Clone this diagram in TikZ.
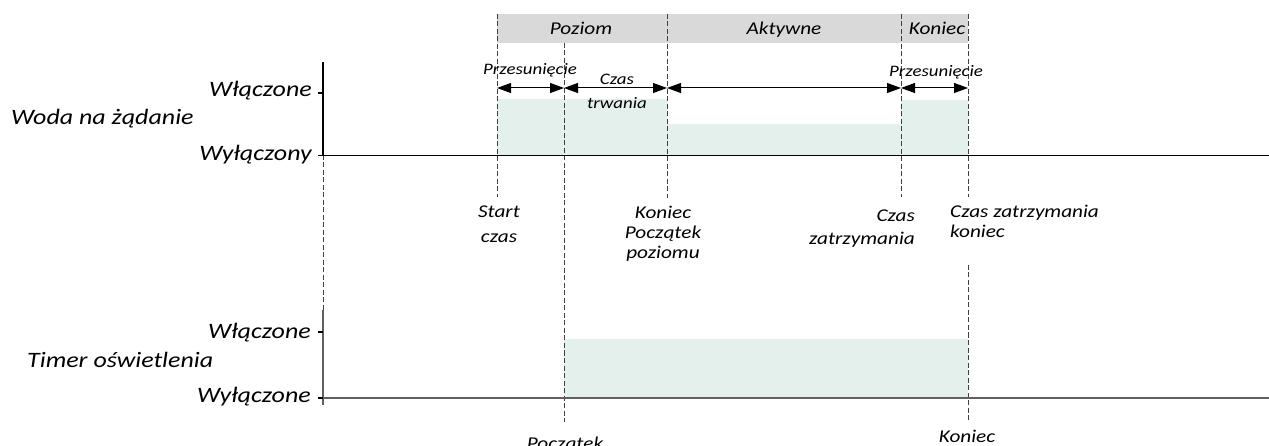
\documentclass[tikz,border=0pt]{standalone}
\usepackage{fontspec}
\newfontfamily\lab{Carlito}[FakeStretch=1.18]
\usetikzlibrary{arrows.meta}
\definecolor{fillgreen}{HTML}{E4F0EC}
\definecolor{hdrgray}{HTML}{D9D9D9}
\definecolor{dashgray}{HTML}{404040}
\definecolor{axisgray}{HTML}{606060}
\begin{document}
\begin{tikzpicture}[x=1pt,y=-1pt,
  txt/.style={inner sep=0pt, font=\lab\itshape\fontsize{18}{20}\selectfont},
  big/.style={inner sep=0pt, font=\lab\itshape\fontsize{22}{24}\selectfont},
  small/.style={inner sep=0pt, font=\lab\itshape\fontsize{16}{24}\selectfont},
  guide/.style={dashgray, line width=0.9pt, dash pattern=on 5pt off 2.5pt},
  axis/.style={black, line width=1.2pt},
  baxis/.style={axisgray, line width=1.5pt},
  dimarrow/.style={{Triangle[length=14pt,width=10pt]}-{Triangle[length=14pt,width=10pt]}, line width=1pt},
  level/.style={fill=fillgreen, draw=none},
]
\useasboundingbox (0,0) rectangle (1269,446);
% header band
\fill[hdrgray] (497,14) rectangle (968,43);
% signal levels
\fill[level] (497,99) rectangle (667,155.5);
\fill[level] (667,124) rectangle (901,155.5);
\fill[level] (901,100) rectangle (968,155.5);
\fill[level] (564,339) rectangle (968,398);
% time coordinates
\coordinate (tS) at (497,88);
\coordinate (tO) at (564,88);
\coordinate (tL) at (667,88);
\coordinate (tH) at (901,88);
\coordinate (tE) at (968,88);
% guides
\draw[guide] (497,14) -- (497,197);
\draw[guide] (564,43) -- (564,422);
\draw[guide] (667,14) -- (667,198);
\draw[guide] (901,14) -- (901,197);
\draw[guide] (968,14) -- (968,197);
\draw[guide] (968,265) -- (968,422);
\draw[guide] (323,155) -- (323,310);
% top axis
\draw[axis] (323,62) -- (323,155.5) -- (1269,155.5);
\draw[axis] (318,93) -- (323,93);
\draw[axis] (318,155.5) -- (323,155.5);
% bottom axis
\draw[baxis] (323,310) -- (323,405);
\draw[baxis] (323,398) -- (1269,398);
\draw[axis] (318,332) -- (323,332);
\draw[axis] (318,398) -- (323,398);
% dimension arrows
\draw[dimarrow] (tS) -- (tO);
\draw[dimarrow] (tO) -- (tL);
\draw[dimarrow] (tL) -- (tH);
\draw[dimarrow] (tH) -- (tE);
% header texts
\node[txt,anchor=base] (hP) at (581,35) {Poziom};
\node[txt,anchor=base] (hA) at (784,35) {Aktywne};
\node[txt,anchor=base] (hK) at (937,35) {Koniec};
% arrow labels
\node[small,anchor=base] (o1) at (530,75) {Przesunięcie};
\node[small,anchor=base] (o2) at (936,77) {Przesunięcie};
\node[small,align=center] (d1) at (617,91) {Czas\\trwania};
% signal labels
\node[big,anchor=base west] (w) at (11,125) {Woda na żądanie};
\node[big,anchor=base east] (won) at (312,97) {Włączone};
\node[big,anchor=base east] (woff) at (312,161) {Wyłączony};
\node[big,anchor=base west] (t) at (27,367) {Timer oświetlenia};
\node[big,anchor=base east] (ton) at (311,338) {Włączone};
\node[big,anchor=base east] (toff) at (311,402) {Wyłączone};
% event labels
\node[txt,align=center,anchor=north,font=\lab\itshape\fontsize{18}{25}\selectfont] (e1) at (499,206) {Start\\czas};
\node[txt,align=center,anchor=north] (e2) at (663,206) {Koniec\\Początek\\poziomu};
\node[txt,align=right,anchor=north east,font=\lab\itshape\fontsize{18}{23}\selectfont] (e3) at (915,210) {Czas\\zatrzymania};
\node[txt,align=left,anchor=north west] (e4) at (950,205) {Czas zatrzymania\\koniec};
\node[txt,anchor=base] (b1) at (565,449) {Początek};
\node[txt,anchor=base] (b2) at (967,442) {Koniec};
\end{tikzpicture}
\end{document}
